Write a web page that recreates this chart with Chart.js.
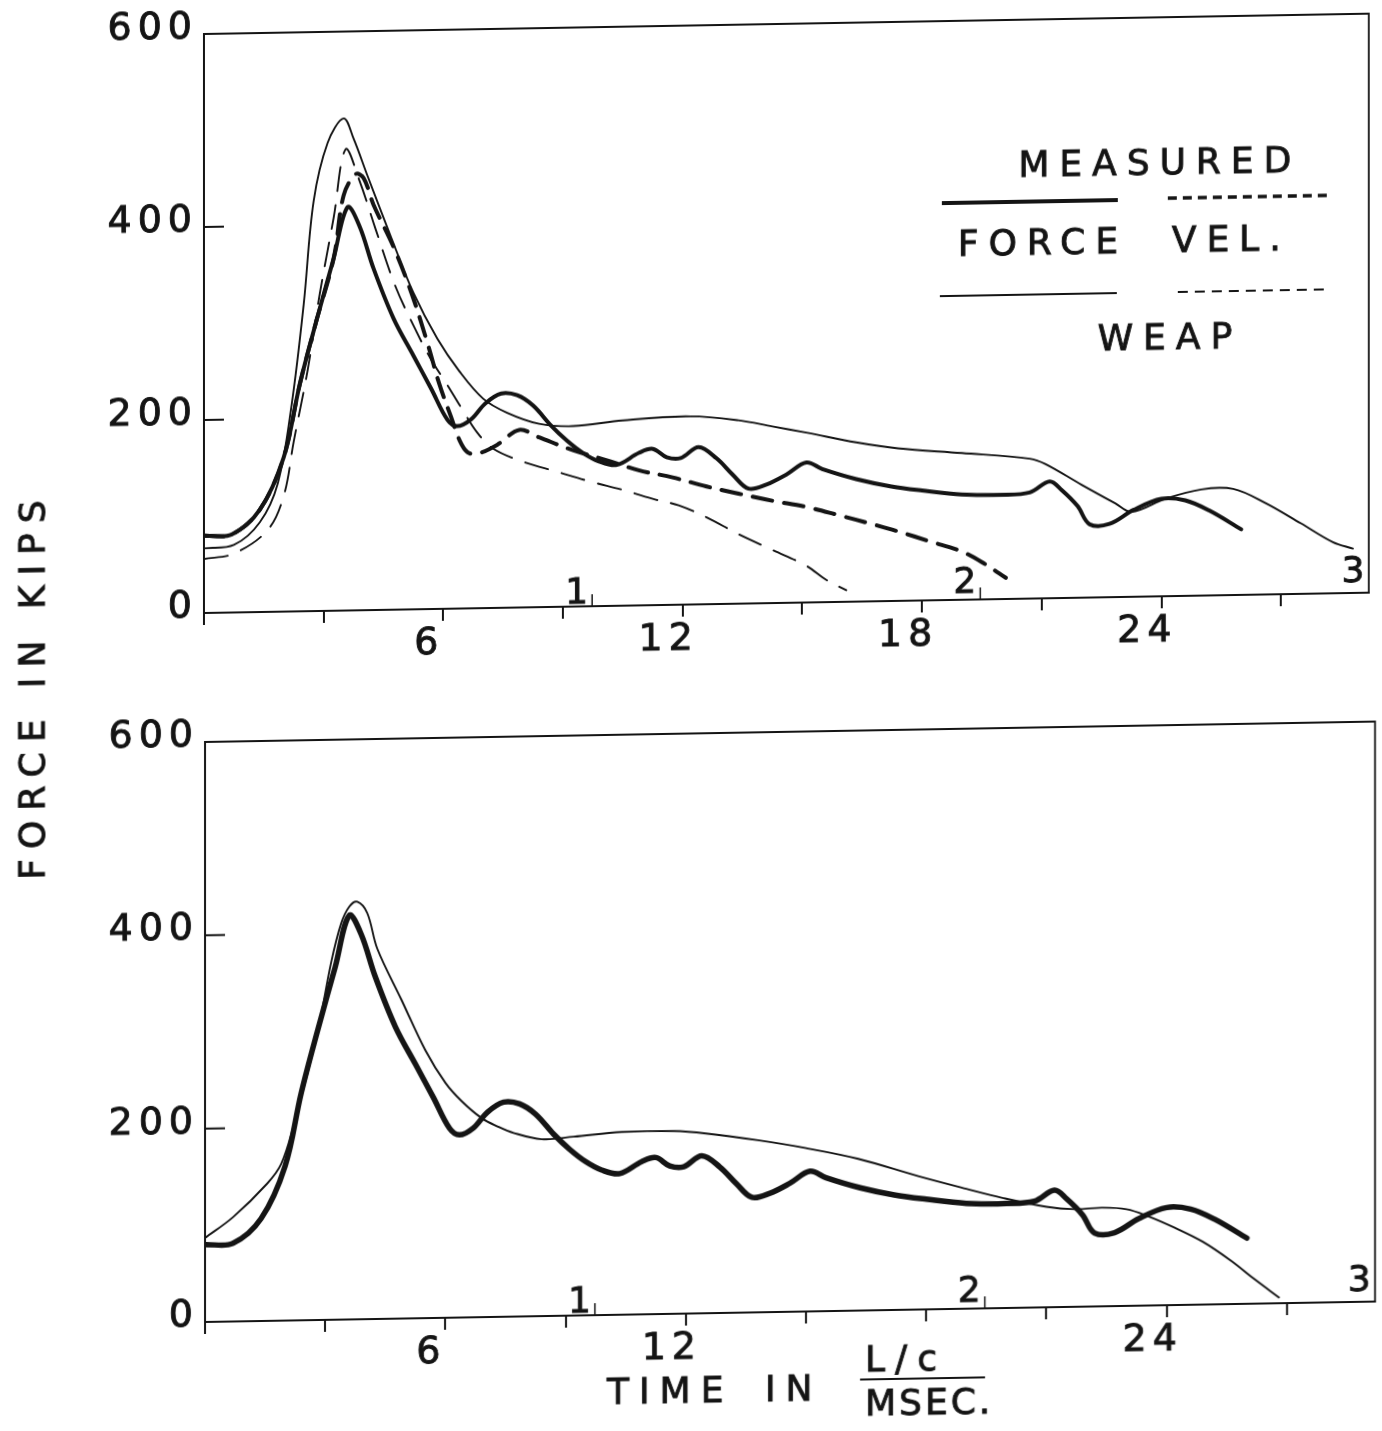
<!DOCTYPE html>
<html>
<head>
<meta charset="utf-8">
<title>Force records</title>
<script src="https://cdn.jsdelivr.net/npm/chart.js@4.4.1/dist/chart.umd.min.js"></script>
<style>
  html, body { margin: 0; padding: 0; background: #fff; overflow: hidden; }
  #sheet { position: relative; width: 1382px; height: 1431px; transform: skewY(-1deg); transform-origin: 204px 0; }
  #topChart { position: absolute; left: 0; top: 0; }
  #bottomChart { position: absolute; left: 0; top: 700px; }
  #yTitle {
    position: absolute; left: 32px; top: 682px;
    transform: translate(-50%, -50%) rotate(-90deg);
    font: 36px "DejaVu Sans", sans-serif; letter-spacing: 10px;
    -webkit-text-stroke: 0.9px #141414;
    white-space: nowrap; color: #141414;
  }
</style>
</head>
<body>
<div id="sheet">
  <canvas id="topChart" width="1382" height="700"></canvas>
  <canvas id="bottomChart" width="1382" height="760"></canvas>
  <div id="yTitle">FORCE IN KIPS</div>
</div>
<script>
// Axis ticks
const topTimeLabels = [6, 12, 18, 24];      // msec
const bottomTimeLabels = [6, 12, 24];       // 18 gives way to the L/c caption
const forceTicks = [0, 200, 400, 600];      // kips
const lcMarks = [1, 2, 3];                  // multiples of L/c
const lcPeriod = 9.73;                      // msec per L/c

// Measured force (same record in both panels)
const measuredTime  = [0, 0.7, 1.4, 2.0, 2.4, 2.8, 3.25, 3.6, 3.9, 4.25, 4.75, 5.25, 5.7, 6.1, 6.35, 6.7, 7.05, 7.45, 7.85, 8.25, 8.7, 9.1, 9.5, 9.9, 10.35, 10.9, 11.25, 11.6, 11.95, 12.4, 12.85, 13.25, 13.65, 14.1, 14.6, 15.1, 15.5, 16.35, 17.2, 18.0, 19.0, 20.0, 20.7, 21.2, 21.5, 21.9, 22.2, 22.7, 23.3, 24.0, 24.6, 25.2, 26.0];
const measuredForce = [80, 81, 106, 160, 235, 298, 365, 418, 398, 354, 302, 263, 228, 196, 189, 196, 212, 222, 220, 209, 188, 172, 159, 150, 146, 158, 162, 153, 152, 163, 151, 134, 119, 123, 133, 145, 138, 127, 119, 114, 109, 108, 110, 121, 112, 95, 76, 76, 90, 101, 99, 88, 68];

// Measured velocity times impedance (top panel)
const measuredVelTime = [0, 0.7, 1.4, 2.0, 2.4, 2.8, 3.25, 3.5, 3.8, 4.0, 4.25, 4.75, 5.2, 5.6, 5.9, 6.2, 6.4, 6.6, 6.85, 7.35, 7.9, 8.4, 9.25, 10.1, 10.9, 11.75, 12.6, 13.4, 14.25, 15.1, 15.9, 16.75, 17.4, 18.2, 19.0, 19.6, 20.1];
const measuredVel     = [80, 81, 106, 160, 235, 298, 365, 430, 452, 448, 420, 376, 328, 276, 233, 198, 175, 162, 160, 169, 184, 176, 162, 151, 140, 132, 122, 114, 106, 99, 90, 80, 72, 61, 50, 36, 22];

// WEAP force and velocity, first run (top panel)
const weapTopTime  = [0, 0.75, 1.4, 1.85, 2.2, 2.5, 2.75, 3.1, 3.5, 3.75, 4.1, 4.7, 5.25, 5.85, 6.4, 7.0, 7.6, 8.4, 9.25, 10.5, 12.2, 13.4, 14.25, 15.1, 16.35, 17.4, 19.0, 20.7, 21.1, 22.0, 22.85, 23.25, 24.1, 25.0, 25.8, 26.6, 27.5, 28.3, 28.8];
const weapTopForce = [67, 70, 93, 133, 215, 318, 425, 485, 510, 489, 450, 385, 328, 280, 246, 217, 202, 190, 187, 192, 195, 190, 183, 176, 165, 158, 152, 145, 139, 117, 97, 88, 101, 110, 110, 95, 73, 53, 46];
const weapVelTime  = [0, 0.75, 1.6, 2.0, 2.25, 2.6, 2.9, 3.25, 3.55, 3.9, 4.3, 4.8, 5.3, 5.7, 6.1, 6.45, 6.85, 7.25, 8.0, 8.85, 9.7, 10.5, 11.35, 11.9, 12.6, 13.4, 14.25, 15.1, 15.6, 16.1];
const weapVel      = [56, 61, 85, 120, 176, 250, 328, 407, 478, 445, 395, 335, 290, 258, 232, 208, 182, 165, 151, 140, 129, 120, 109, 103, 90, 72, 55, 38, 23, 12];

// WEAP force, second run (bottom panel)
const weapBotTime  = [0, 0.7, 1.55, 1.9, 2.2, 2.8, 3.15, 3.4, 3.6, 3.8, 4.05, 4.3, 4.9, 5.5, 6.0, 6.4, 6.9, 7.3, 7.7, 8.4, 9.2, 10.4, 11.7, 12.5, 13.8, 15.0, 16.3, 17.8, 19.0, 19.9, 21.0, 21.7, 22.4, 23.0, 23.5, 24.2, 24.9, 25.6, 26.2, 26.8];
const weapBotForce = [87, 108, 142, 162, 200, 296, 370, 410, 427, 432, 420, 383, 330, 277, 243, 224, 206, 197, 190, 183, 185, 189, 189, 186, 178, 169, 157, 138, 124, 114, 104, 101, 102, 100, 93, 80, 65, 45, 25, 6];

const ink = '#141414';
const FONT = '"DejaVu Sans", sans-serif';

function points(xs, ys) {
    return xs.map((x, i) => ({ x, y: ys[i] }));
}

function curve(xs, ys, width, dash, color) {
    return {
        data: points(xs, ys),
        borderColor: color || ink,
        borderWidth: width,
        borderDash: dash || [],
        borderCapStyle: 'round',
        pointRadius: 0,
        tension: 0.35,
        fill: false
    };
}

// Filled text with a light outline so the lettering reads as medium weight
function inkText(ctx, text, x, y) {
    ctx.fillText(text, x, y);
    ctx.strokeText(text, x, y);
}

// Box, inward force ticks and the L/c markers along the time axis
const framePlugin = {
    id: 'frame',
    beforeLayout(chart) { chart.ctx.letterSpacing = '6px'; },
    beforeDraw(chart) { chart.ctx.letterSpacing = '6px'; },
    afterDraw(chart) {
        const { ctx, chartArea: a, scales: { x, y } } = chart;
        const rise = [12, 16, 20];
        ctx.save();
        ctx.strokeStyle = ink;
        ctx.lineWidth = 1.8;
        ctx.beginPath();
        ctx.moveTo(a.left, a.top);
        ctx.lineTo(a.right, a.top);
        ctx.lineTo(a.right, a.bottom);
        ctx.stroke();

        ctx.lineWidth = 2;
        forceTicks.slice(1, -1).forEach(v => {
            const py = y.getPixelForValue(v);
            ctx.beginPath();
            ctx.moveTo(a.left, py);
            ctx.lineTo(a.left + 20, py);
            ctx.stroke();
        });

        ctx.font = `36px ${FONT}`;
        ctx.letterSpacing = '9px';
        ctx.fillStyle = ink;
        ctx.textAlign = 'right';
        ctx.textBaseline = 'middle';
        lcMarks.forEach((k, i) => {
            const px = x.getPixelForValue(k * lcPeriod);
            ctx.lineWidth = 0.9;
            inkText(ctx, String(k), px + 5, a.bottom - rise[i]);
            if (px < a.right - 6) {
                ctx.lineWidth = 1.5;
                ctx.beginPath();
                ctx.moveTo(px, a.bottom);
                ctx.lineTo(px, a.bottom - 12);
                ctx.stroke();
            }
        });
        ctx.restore();
    }
};

// Key for the four curves of the upper panel
const keyPlugin = {
    id: 'key',
    afterDraw(chart) {
        const ctx = chart.ctx;
        ctx.save();
        ctx.font = `36px ${FONT}`;
        ctx.letterSpacing = '10px';
        ctx.fillStyle = ink;
        ctx.strokeStyle = ink;
        ctx.lineWidth = 0.9;
        ctx.textBaseline = 'middle';
        ctx.textAlign = 'center';
        inkText(ctx, 'MEASURED', 1160, 182);
        inkText(ctx, 'WEAP', 1170, 357);
        ctx.textAlign = 'left';
        inkText(ctx, 'FORCE', 958, 260);
        inkText(ctx, 'VEL.', 1172, 260);

        const seg = (x1, x2, yy, w, dash) => {
            ctx.lineWidth = w;
            ctx.setLineDash(dash);
            ctx.beginPath();
            ctx.moveTo(x1, yy);
            ctx.lineTo(x2, yy);
            ctx.stroke();
        };
        seg(942, 1118, 216, 4, []);
        seg(1168, 1332, 215, 3.5, [9, 6]);
        seg(940, 1117, 309, 2, []);
        seg(1178, 1330, 309, 2, [10, 7]);
        ctx.restore();
    }
};

// Time axis caption under the lower panel
const captionPlugin = {
    id: 'caption',
    afterDraw(chart) {
        const ctx = chart.ctx;
        ctx.save();
        ctx.font = `36px ${FONT}`;
        ctx.fillStyle = ink;
        ctx.strokeStyle = ink;
        ctx.lineWidth = 0.9;
        ctx.textBaseline = 'middle';
        ctx.textAlign = 'left';
        ctx.letterSpacing = '10px';
        inkText(ctx, 'TIME', 607, 702);
        inkText(ctx, 'IN', 765, 702);
        inkText(ctx, 'L/c', 865, 674);
        ctx.letterSpacing = '3px';
        inkText(ctx, 'MSEC.', 865, 718);
        ctx.lineWidth = 2;
        ctx.beginPath();
        ctx.moveTo(860, 691);
        ctx.lineTo(985, 691);
        ctx.stroke();
        ctx.restore();
    }
};

function options(timeLabels, padTop, padRight, yWidth, xHeight) {
    const tickFont = { family: FONT, size: 38 };
    return {
        responsive: false,
        animation: false,
        devicePixelRatio: 1,
        layout: { padding: { top: padTop, right: padRight, left: 0, bottom: 0 } },
        plugins: { legend: { display: false }, tooltip: { enabled: false } },
        scales: {
            x: {
                type: 'linear', min: 0, max: 29.2,
                afterFit: s => { s.height = xHeight; },
                border: { display: true, color: ink, width: 2 },
                grid: { drawOnChartArea: false, drawTicks: true, tickLength: 12, color: ink, lineWidth: 2 },
                ticks: {
                    stepSize: 3, includeBounds: false, autoSkip: false, maxRotation: 0,
                    color: ink, font: tickFont, padding: 0, labelOffset: -14,
                    textStrokeColor: ink, textStrokeWidth: 0.9,
                    callback: v => timeLabels.includes(v) ? String(v) : ''
                }
            },
            y: {
                min: 0, max: 600,
                afterFit: s => { s.width = yWidth; },
                border: { display: true, color: ink, width: 2 },
                grid: { drawOnChartArea: false, drawTicks: false },
                ticks: {
                    stepSize: 200, color: ink, font: tickFont, padding: 6, labelOffset: -6,
                    textStrokeColor: ink, textStrokeWidth: 0.9
                }
            }
        }
    };
}

new Chart(document.getElementById('topChart'), {
    type: 'line',
    data: {
        datasets: [
            curve(weapVelTime, weapVel, 1.9, [24, 14]),
            curve(weapTopTime, weapTopForce, 1.9),
            curve(measuredVelTime, measuredVel, 4, [20, 12]),
            curve(measuredTime, measuredForce, 4)
        ]
    },
    options: options(topTimeLabels, 34, 13, 204, 87),
    plugins: [framePlugin, keyPlugin]
});

new Chart(document.getElementById('bottomChart'), {
    type: 'line',
    data: {
        datasets: [
            curve(weapBotTime, weapBotForce, 1.9),
            curve(measuredTime, measuredForce, 5.5),
            curve(measuredTime, measuredForce, 1.2, [], '#8c8c8c')
        ]
    },
    options: options(bottomTimeLabels, 42, 7, 205, 138),
    plugins: [framePlugin, captionPlugin]
});
</script>
</body>
</html>
